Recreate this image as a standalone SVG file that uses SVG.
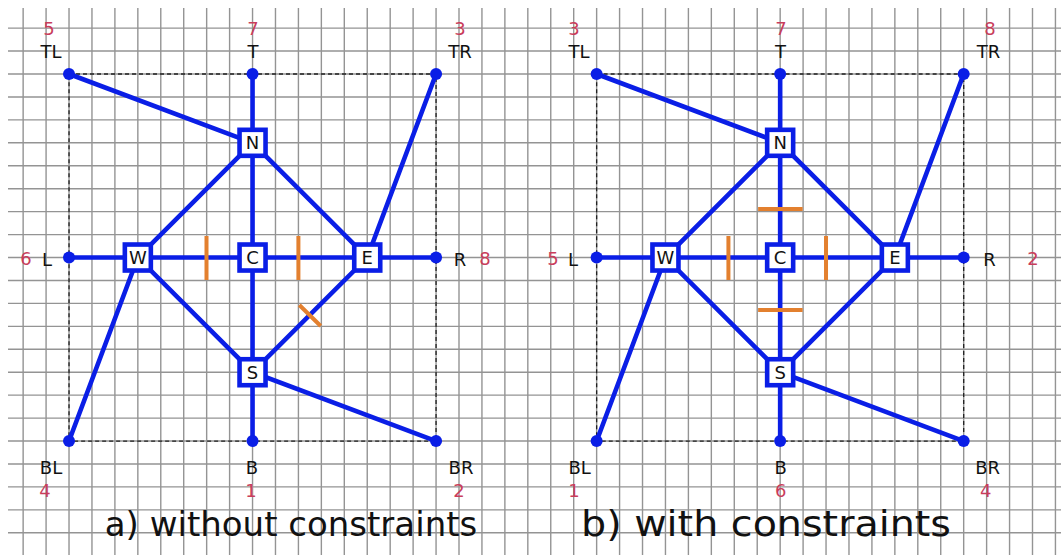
<svg xmlns="http://www.w3.org/2000/svg" width="1061" height="555" viewBox="0 0 1061 555">
<style>
.grid{stroke:#949494;stroke-width:1.4;fill:none}
.frame{stroke:#222;stroke-width:1.3;fill:none;stroke-dasharray:4 3}
.edge{stroke:#0a1ee6;stroke-width:4.6;fill:none;stroke-linecap:round}
.pt{fill:#0a1ee6}
.box{fill:#fff;stroke:#0a1ee6;stroke-width:4.6}
.tick{stroke:#e3802f;stroke-width:4;fill:none}
.lbl{font-family:"DejaVu Sans",Verdana,sans-serif;font-size:18px;fill:#111;text-anchor:middle}
.num{font-family:"DejaVu Sans",Verdana,sans-serif;font-size:18px;fill:#c93d5b;text-anchor:middle}
.cap{font-family:"DejaVu Sans",Verdana,sans-serif;font-size:34px;fill:#111;text-anchor:middle}
</style>
<rect width="1061" height="555" fill="#fff"/>
<path class="grid" d="M23.14 8V555M46.08 8V555M69.02 8V555M91.96 8V555M114.9 8V555M137.84 8V555M160.78 8V555M183.72 8V555M206.66 8V555M229.6 8V555M252.54 8V555M275.48 8V555M298.42 8V555M321.36 8V555M344.3 8V555M367.24 8V555M390.18 8V555M413.12 8V555M436.06 8V555M459 8V555M481.94 8V555M504.88 8V555M527.82 8V555M550.76 8V555M573.7 8V555M596.64 8V555M619.58 8V555M642.52 8V555M665.46 8V555M688.4 8V555M711.34 8V555M734.28 8V555M757.22 8V555M780.16 8V555M803.1 8V555M826.04 8V555M848.98 8V555M871.92 8V555M894.86 8V555M917.8 8V555M940.74 8V555M963.68 8V555M986.62 8V555M1009.56 8V555M1032.5 8V555M1055.44 8V555M8 28.12H1061M8 51.06H1061M8 74H1061M8 96.94H1061M8 119.88H1061M8 142.82H1061M8 165.76H1061M8 188.7H1061M8 211.64H1061M8 234.58H1061M8 257.52H1061M8 280.46H1061M8 303.4H1061M8 326.34H1061M8 349.28H1061M8 372.22H1061M8 395.16H1061M8 418.1H1061M8 441.04H1061M8 463.98H1061M8 486.92H1061M8 509.86H1061M8 532.8H1061"/>

<g id="panel-a">
  <rect class="frame" x="69.02" y="74" width="367.04" height="367.04"/>
  <g id="connectors-a">
    <path class="edge" d="M252.54 74V441.04M69.02 257.52H436.06M69.02 74L252.54 142.82M436.06 74L367.24 257.52M69.02 441.04L137.84 257.52M436.06 441.04L252.54 372.22M252.54 142.82L137.84 257.52L252.54 372.22L367.24 257.52Z"/>
    <path class="tick" d="M206.5 236V280M298.4 236V280M299.3 305L320.7 326"/>
  </g>
  <g id="a-TL"><circle class="pt" cx="69.02" cy="74" r="6"/><text class="num" x="49" y="35">5</text><text class="lbl" x="51" y="58">TL</text></g>
  <g id="a-T"><circle class="pt" cx="252.54" cy="74" r="6"/><text class="num" x="253" y="35">7</text><text class="lbl" x="253" y="58">T</text></g>
  <g id="a-TR"><circle class="pt" cx="436.06" cy="74" r="6"/><text class="num" x="460" y="35">3</text><text class="lbl" x="460" y="58">TR</text></g>
  <g id="a-L"><circle class="pt" cx="69.02" cy="257.52" r="6"/><text class="num" x="26" y="265">6</text><text class="lbl" x="47" y="266">L</text></g>
  <g id="a-R"><circle class="pt" cx="436.06" cy="257.52" r="6"/><text class="lbl" x="460" y="266">R</text><text class="num" x="485" y="265">8</text></g>
  <g id="a-BL"><circle class="pt" cx="69.02" cy="441.04" r="6"/><text class="lbl" x="51" y="474">BL</text><text class="num" x="45" y="497">4</text></g>
  <g id="a-B"><circle class="pt" cx="252.54" cy="441.04" r="6"/><text class="lbl" x="252" y="474">B</text><text class="num" x="251" y="497">1</text></g>
  <g id="a-BR"><circle class="pt" cx="436.06" cy="441.04" r="6"/><text class="lbl" x="461" y="474">BR</text><text class="num" x="459" y="497">2</text></g>
  <g id="a-N"><rect class="box" x="239.54" y="129.82" width="26" height="26"/><text class="lbl" x="252.54" y="149.3">N</text></g>
  <g id="a-W"><rect class="box" x="124.84" y="244.52" width="26" height="26"/><text class="lbl" x="137.84" y="264">W</text></g>
  <g id="a-C"><rect class="box" x="239.54" y="244.52" width="26" height="26"/><text class="lbl" x="252.54" y="264">C</text></g>
  <g id="a-E"><rect class="box" x="354.24" y="244.52" width="26" height="26"/><text class="lbl" x="367.24" y="264">E</text></g>
  <g id="a-S"><rect class="box" x="239.54" y="359.22" width="26" height="26"/><text class="lbl" x="252.54" y="378.7">S</text></g>
  <text class="cap" x="291" y="536">a) without constraints</text>
</g>

<g id="panel-b" transform="translate(527.62,0)">
  <rect class="frame" x="69.02" y="74" width="367.04" height="367.04"/>
  <g id="connectors-b">
    <path class="edge" d="M252.54 74V441.04M69.02 257.52H436.06M69.02 74L252.54 142.82M436.06 74L367.24 257.52M69.02 441.04L137.84 257.52M436.06 441.04L252.54 372.22M252.54 142.82L137.84 257.52L252.54 372.22L367.24 257.52Z"/>
    <path class="tick" d="M200.8 236V280M298.4 236V280M230.5 209H275M230.5 310H275"/>
  </g>
  <g id="b-TL"><circle class="pt" cx="69.02" cy="74" r="6"/><text class="num" x="46.4" y="35">3</text><text class="lbl" x="51.4" y="58">TL</text></g>
  <g id="b-T"><circle class="pt" cx="252.54" cy="74" r="6"/><text class="num" x="253.4" y="35">7</text><text class="lbl" x="253" y="58">T</text></g>
  <g id="b-TR"><circle class="pt" cx="436.06" cy="74" r="6"/><text class="num" x="462.4" y="35">8</text><text class="lbl" x="461" y="58">TR</text></g>
  <g id="b-L"><circle class="pt" cx="69.02" cy="257.52" r="6"/><text class="num" x="25.4" y="265">5</text><text class="lbl" x="45.4" y="266">L</text></g>
  <g id="b-R"><circle class="pt" cx="436.06" cy="257.52" r="6"/><text class="lbl" x="462" y="266">R</text><text class="num" x="505.4" y="265">2</text></g>
  <g id="b-BL"><circle class="pt" cx="69.02" cy="441.04" r="6"/><text class="lbl" x="52" y="474">BL</text><text class="num" x="46.4" y="497">1</text></g>
  <g id="b-B"><circle class="pt" cx="252.54" cy="441.04" r="6"/><text class="lbl" x="253" y="474">B</text><text class="num" x="253" y="497">6</text></g>
  <g id="b-BR"><circle class="pt" cx="436.06" cy="441.04" r="6"/><text class="lbl" x="460" y="474">BR</text><text class="num" x="458" y="497">4</text></g>
  <g id="b-N"><rect class="box" x="239.54" y="129.82" width="26" height="26"/><text class="lbl" x="252.54" y="149.3">N</text></g>
  <g id="b-W"><rect class="box" x="124.84" y="244.52" width="26" height="26"/><text class="lbl" x="137.84" y="264">W</text></g>
  <g id="b-C"><rect class="box" x="239.54" y="244.52" width="26" height="26"/><text class="lbl" x="252.54" y="264">C</text></g>
  <g id="b-E"><rect class="box" x="354.24" y="244.52" width="26" height="26"/><text class="lbl" x="367.24" y="264">E</text></g>
  <g id="b-S"><rect class="box" x="239.54" y="359.22" width="26" height="26"/><text class="lbl" x="252.54" y="378.7">S</text></g>
  <text class="cap" x="238.4" y="536" style="font-size:36px" textLength="370" lengthAdjust="spacingAndGlyphs">b) with constraints</text>
</g>
</svg>
